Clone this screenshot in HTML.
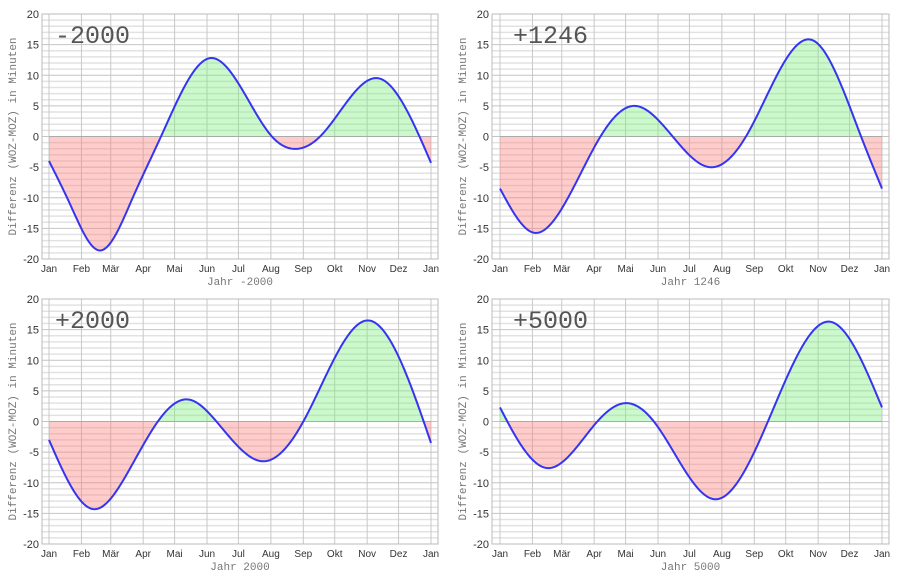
<!DOCTYPE html>
<html><head><meta charset="utf-8"><style>
body{margin:0;background:#fff;}
svg{display:block;font-family:"Liberation Sans",sans-serif;}
</style></head><body>
<svg id="c" width="900" height="576" viewBox="0 0 900 576"></svg>
<script>
const months = ["Jan","Feb","Mär","Apr","Mai","Jun","Jul","Aug","Sep","Okt","Nov","Dez","Jan"];
const monthDays = [0,31,59,90,120,151,181,212,243,273,304,334,365];
const yTicks = [20,15,10,5,0,-5,-10,-15,-20];
const titles = ["-2000","+1246","+2000","+5000"];
const xTitles = ["Jahr -2000","Jahr 1246","Jahr 2000","Jahr 5000"];
const days1 = [0,20,48,80,107,154,213,238,259,315,354,365];
const vals1 = [-4,-11,-18.6,-10,0,12.8,0,-2,0,9.5,0,-4.3];
const days2 = [0,32,60,96,128,165,200,235,299,345,365];
const vals2 = [-8.5,-15.7,-11.5,0,5,0,-5,0,15.7,0,-8.5];
const days3 = [0,42,75,104,133,160,205,243,305,358,365];
const vals3 = [-3,-14.3,-8.4,0,3.6,0,-6.5,0,16.5,0,-3.5];
const days4 = [0,7,45,93,120,147,206,256,315,365];
const vals4 = [2.3,0,-7.6,0,3,0,-12.7,0,16.3,2.3];
const allDays=[days1,days2,days3,days4], allVals=[vals1,vals2,vals3,vals4];
const NS="http://www.w3.org/2000/svg";
const svg=document.getElementById('c');
function mk(tag,attrs,parent){const e=document.createElementNS(NS,tag);for(const k in attrs)e.setAttribute(k,attrs[k]);(parent||svg).appendChild(e);return e;}
function spline(xs,ys){
  const n=xs.length,h=[],al=[],l=[1],mu=[0],z=[0],c=new Array(n).fill(0),b=[],d=[];
  for(let i=0;i<n-1;i++)h[i]=xs[i+1]-xs[i];
  for(let i=1;i<n-1;i++)al[i]=3/h[i]*(ys[i+1]-ys[i])-3/h[i-1]*(ys[i]-ys[i-1]);
  for(let i=1;i<n-1;i++){l[i]=2*(xs[i+1]-xs[i-1])-h[i-1]*mu[i-1];mu[i]=h[i]/l[i];z[i]=(al[i]-h[i-1]*z[i-1])/l[i];}
  l[n-1]=1;z[n-1]=0;c[n-1]=0;
  for(let j=n-2;j>=0;j--){c[j]=z[j]-mu[j]*c[j+1];b[j]=(ys[j+1]-ys[j])/h[j]-h[j]*(c[j+1]+2*c[j])/3;d[j]=(c[j+1]-c[j])/(3*h[j]);}
  return x=>{let j=0;while(j<n-2&&x>xs[j+1])j++;const t=x-xs[j];return ys[j]+b[j]*t+c[j]*t*t+d[j]*t*t*t;};
}
const panels=[{fx0:42,fx1:438,fy0:14,fy1:259,dx0:49,dx1:431},{fx0:492,fx1:889,fy0:14,fy1:259,dx0:500,dx1:882},
{fx0:42,fx1:438,fy0:299,fy1:544,dx0:49,dx1:431},{fx0:492,fx1:889,fy0:299,fy1:544,dx0:500,dx1:882}];
panels.forEach((p,i)=>{
  const g=mk('g',{});
  
  
  const X=d=>p.dx0+(p.dx1-p.dx0)*d/365;
  const Y=v=>p.fy0+(p.fy1-p.fy0)*(20-v)/40;
  for(let v=-20;v<=20;v++){
    const l=mk('line',{x1:p.fx0,x2:p.fx1,y1:Y(v),y2:Y(v),stroke:v%5===0?'#c4c4c4':'#e2e2e2','stroke-width':v%5===0?1:1.5},g);
    
    
  }
  monthDays.forEach(d=>{
    const l=mk('line',{x1:X(d),x2:X(d),y1:p.fy0,y2:p.fy1,stroke:'#c8c8c8','stroke-width':1},g);
    
    
  });
  const f=spline(allDays[i],allVals[i]);
  let path='';
  for(let d=0;d<=365;d+=1){path+=(d?' L':'M')+X(d).toFixed(2)+','+Y(f(d)).toFixed(2);}
  const y0=Y(0);
  const area=path+' L'+X(365)+','+y0+' L'+X(0)+','+y0+' Z';
  const cpA=mk('clipPath',{id:'above'+i},g); mk('rect',{x:p.fx0,y:p.fy0,width:p.fx1-p.fx0,height:y0-p.fy0},cpA);
  const cpB=mk('clipPath',{id:'below'+i},g); mk('rect',{x:p.fx0,y:y0,width:p.fx1-p.fx0,height:p.fy1-y0},cpB);
  const ga=mk('path',{d:area,fill:'rgba(120,240,120,0.38)','clip-path':'url(#above'+i+')'},g);
  
  
  const gb=mk('path',{d:area,fill:'rgba(255,120,120,0.38)','clip-path':'url(#below'+i+')'},g);
  
  
  const zl=mk('line',{x1:X(0),x2:X(365),y1:y0,y2:y0,stroke:'#aaa','stroke-width':1},g);
  
  
  const ln=mk('path',{d:path,fill:'none',stroke:'#3535f0','stroke-width':2,'stroke-linejoin':'round'},g);
  
  
  const fr=mk('rect',{x:p.fx0,y:p.fy0,width:p.fx1-p.fx0,height:p.fy1-p.fy0,fill:'none',stroke:'#bbb','stroke-width':1},g);
  
  
  yTicks.forEach(v=>{
    const t=mk('text',{x:p.fx0-3,y:Y(v)+4,'text-anchor':'end','font-size':11,fill:'#333'},g);
    t.textContent=v;
    
    
  });
  months.forEach((m,k)=>{
    const t=mk('text',{x:X(monthDays[k]),y:p.fy1+13,'text-anchor':'middle','font-size':10,fill:'#333'},g);
    t.textContent=m;
    
    
  });
  const xt=mk('text',{x:(p.fx0+p.fx1)/2,y:p.fy1+26,'text-anchor':'middle','font-size':11,fill:'#777','font-family':'"Liberation Mono",monospace'},g);
  xt.textContent=xTitles[i];
  
  
  const cy=(p.fy0+p.fy1)/2, cx=p.fx0-26;
  const yt=mk('text',{x:cx,y:cy,'text-anchor':'middle','font-size':11,fill:'#777','font-family':'"Liberation Mono",monospace',transform:'rotate(-90 '+cx+' '+cy+')'},g);
  yt.textContent='Differenz (WOZ-MOZ) in Minuten';
  
  
  const tt=mk('text',{x:p.fx0+13+(i%2?8:0),y:p.fy0+29,'font-size':25,fill:'#555','font-family':'"Liberation Mono",monospace'},g);
  tt.textContent=titles[i];
  
  
});
</script>
</body></html>
